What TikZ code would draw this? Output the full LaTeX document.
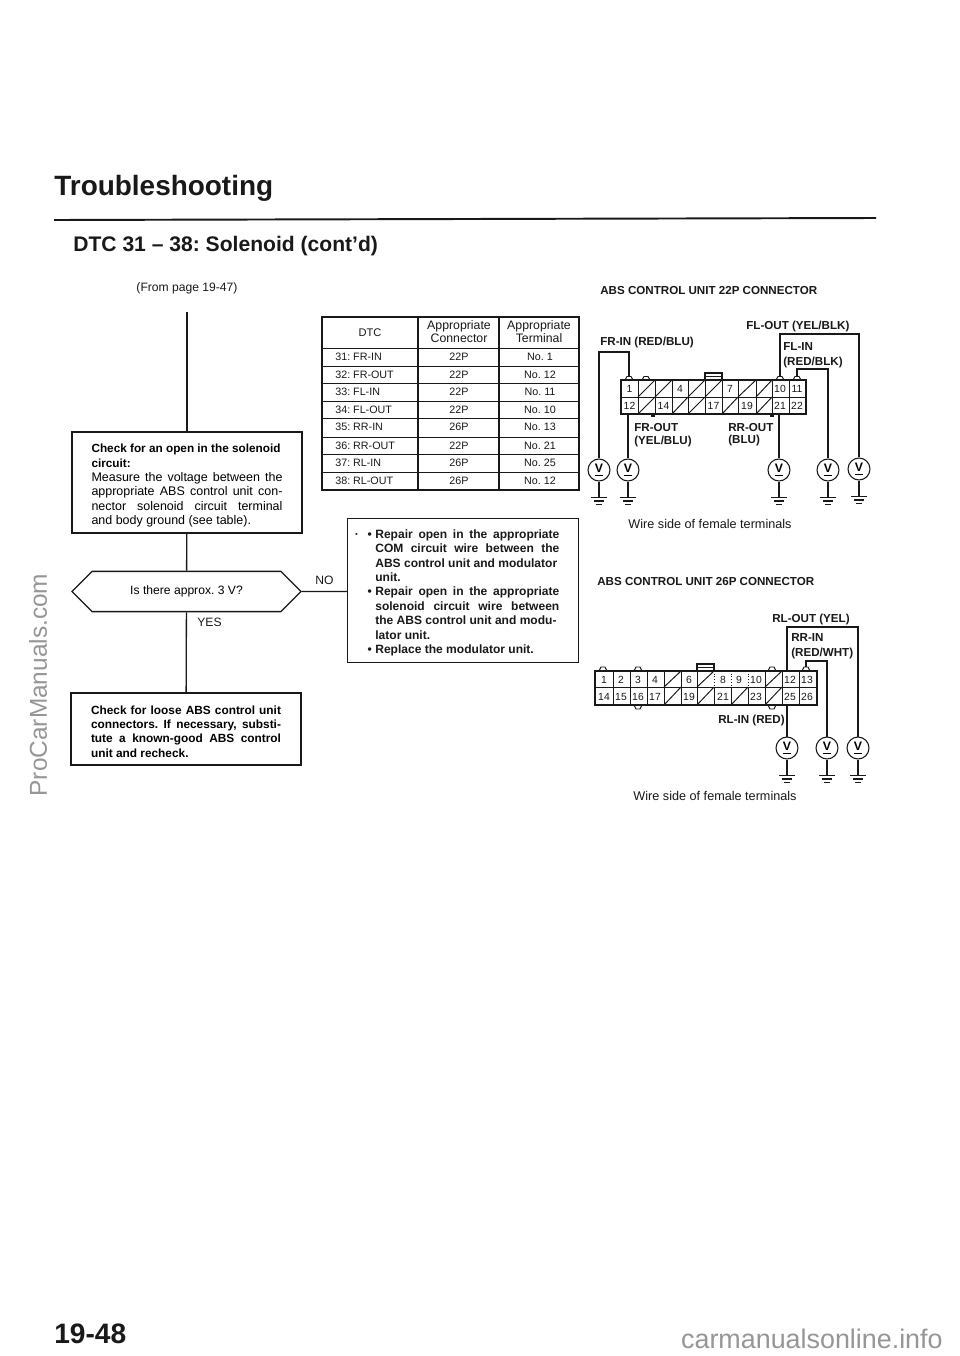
\documentclass[tikz,border=0pt]{standalone}
\usepackage{fontspec}
\setmainfont{Liberation Sans}
\usepackage{tikz}
\usetikzlibrary{positioning, calc, shapes.misc}
\definecolor{mygray}{RGB}{150,150,150}
\definecolor{myink}{RGB}{25,25,25}
\tikzset{
  flowbox/.style={rectangle, draw=myink, line width=0.75pt, inner ysep=0pt, align=justify,
    font=\fontsize{6.7}{8.17}\selectfont},
  askbox/.style={chamfered rectangle, chamfered rectangle xsep=0.39cm, chamfered rectangle ysep=0.29cm,
    draw=myink, line width=0.75pt, inner sep=0pt, minimum width=4.58cm, minimum height=0.58cm,
    font=\fontsize{6.9}{8}\selectfont},
  line/.style={line width=0.75pt, color=myink},
  wire/.style={line width=0.6pt, color=myink},
  label/.style={inner sep=0pt, anchor=base west, font=\fontsize{6.6}{7.4}\selectfont\bfseries, color=myink},
  small/.style={inner sep=0pt, font=\fontsize{6.9}{8}\selectfont, color=myink},
  hdr/.style={inner sep=0pt, font=\fontsize{7}{7.3}\selectfont, color=myink, align=center},
  cell/.style={inner sep=0pt, font=\fontsize{6.1}{7}\selectfont, color=myink},
  pin/.style={inner sep=0pt, font=\fontsize{5.9}{6}\selectfont, color=myink},
  meter/.style={circle, draw=myink, line width=0.6pt, minimum size=12.5pt, inner sep=0pt,
    font=\fontsize{7}{7}\selectfont\bfseries},
  cellline/.style={line width=0.55pt, color=myink}
}
% ground symbol under a meter
\newcommand{\gnd}[1]{
  \draw[wire] (#1.south) -- ++(0,16) ++(-8,0) -- ++(16,0) ++(-13,3.5) -- ++(10,0) ++(-8,3.5) -- ++(6,0);
}
\frenchspacing
\tolerance=9999
\begin{document}
\begin{tikzpicture}[x=0.02cm, y=-0.02cm]
  \useasboundingbox (0,0) rectangle (960,1356);
  \fill[white] (0,0) rectangle (960,1356);

  % Page heading
  \node[anchor=base west, inner sep=0pt, font=\fontsize{15.9}{17}\selectfont\bfseries, color=myink] (title) at (54,195) {Troubleshooting};
  \coordinate (ruleL) at (54,220);
  \coordinate (ruleR) at (876,218);
  \draw[line width=1.1pt, color=myink] (ruleL) -- (ruleR);
  \node[anchor=base west, inner sep=0pt, font=\fontsize{12}{13}\selectfont\bfseries, color=myink] (subtitle) at (73,251) {DTC 31 -- 38: Solenoid (cont'd)};
  \node[small, anchor=base] (frompage) at (187,291) {(From page 19-47)};

  % Flow chart
  \coordinate (top) at (187,312);
  \node[flowbox, minimum width=4.6cm, minimum height=2.02cm, text width=3.82cm, inner xsep=0.39cm] (check) at (187,482.5)
    {\fontsize{6.7}{8.17}\selectfont\rule{0pt}{8.4pt}\textbf{Check for an open in the solenoid\\circuit:}\\\fontsize{7.1}{8.17}\selectfont Measure the voltage between the\linebreak appropriate ABS control unit con-\linebreak nector solenoid circuit terminal\linebreak and body ground (see table).};
  \node[askbox] (ask) at (186.5,591.5) {Is there approx. 3 V?};
  \node[small, anchor=base west] (yes) at (197,626) {YES};
  \node[small, anchor=base west] (no) at (315,584) {NO};
  \node[flowbox, minimum width=4.6cm, minimum height=1.44cm, text width=3.8cm, inner xsep=0.4cm] (loose) at (186,729)
    {\fontsize{6.75}{8.17}\selectfont\bfseries\rule{0pt}{7.8pt}Check for loose ABS control unit\linebreak connectors. If necessary, substi-\linebreak tute a known-good ABS control\linebreak unit and recheck.};
  \node[flowbox, minimum width=4.62cm, minimum height=2.88cm, text width=3.68cm, inner sep=0pt, anchor=north west] (fix) at (347,518) {};
  \node[anchor=north west, inner sep=0pt, text width=3.68cm, align=justify, font=\fontsize{6.85}{8.17}\selectfont\bfseries, color=myink] (fixtext) at (375,529.5)
    {\llap{·\hspace{5pt}\textbullet\hspace{2pt}}Repair open in the appropriate\linebreak COM circuit wire between the\linebreak ABS control unit and modulator\\unit.\\\llap{\textbullet\hspace{2pt}}Repair open in the appropriate\linebreak solenoid circuit wire between\linebreak the ABS control unit and modu-\\lator unit.\\\llap{\textbullet\hspace{2pt}}Replace the modulator unit.};
  \draw[line] (top) -- (check);
  \draw[line] (check) -- (ask);
  \draw[line] (ask) -- (loose);
  \draw[line] (ask) -- (fix.west |- ask);

  % DTC table
  \draw[line] (322,317) rectangle (579,490);
  \draw[line] (418,317) -- (418,490);
  \draw[line] (499,317) -- (499,490);
  \foreach \y in {348,366,383,401,418,437,454,472} {
    \draw[cellline] (322,\y) -- (579,\y);
  }
  \node[hdr] (hdra) at (370,333) {\fontsize{6.3}{7}\selectfont DTC};
  \node[hdr] (hdrb) at (459,332) {Appropriate\\Connector};
  \node[hdr] (hdrc) at (539,332) {Appropriate\\Terminal};
  \foreach \y/\a/\b/\c in {357/31: FR-IN/22P/No. 1, 375/32: FR-OUT/22P/No. 12, 392/33: FL-IN/22P/No. 11,
      410/34: FL-OUT/22P/No. 10, 427/35: RR-IN/26P/No. 13, 445.5/36: RR-OUT/22P/No. 21,
      463/37: RL-IN/26P/No. 25, 481/38: RL-OUT/26P/No. 12} {
    \node[cell, anchor=west] at (335,\y) {\a};
    \node[cell] at (459,\y) {\b};
    \node[cell] at (540,\y) {\c};
  }

  % 22P connector
  \node[label] (abs22) at (600,294) {ABS CONTROL UNIT 22P CONNECTOR};
  \node[label] (flout) at (746,329) {FL-OUT (YEL/BLK)};
  \node[label] (frin) at (600,345) {FR-IN (RED/BLU)};
  \node[label] (flin) at (783,350) {FL-IN};
  \node[label] (flinb) at (783,365) {(RED/BLK)};
  \node[label] (frout) at (634,431) {FR-OUT};
  \node[label] (froutb) at (634,444) {(YEL/BLU)};
  \node[label] (rrout) at (728,431) {RR-OUT};
  \node[label] (rroutb) at (728,443) {(BLU)};
  \node[small, anchor=base, font=\fontsize{7.2}{8}\selectfont] (wire22) at (710,528) {Wire side of female terminals};
  \draw[line] (621,380) rectangle (806,414);
  \draw[cellline] (621,397) -- (806,397);
  \foreach \x in {638,655,672,688,705,722,738,756,772,789} {
    \draw[cellline] (\x,380) -- (\x,414);
  }
  \draw[line] (705,380) -- (705,373) -- (722,373) -- (722,380);
  \draw[cellline] (705,376) -- (722,376);
  \foreach \x/\n in {629.5/1,680/4,730/7,780/10,797/11} { \node[pin] at (\x,389) {\n}; }
  \foreach \x/\n in {629.5/12,663.5/14,713.5/17,747/19,780/21,797/22} { \node[pin] at (\x,406) {\n}; }
  \foreach \xa/\xb/\ya/\yb in {638/655/397/380,655/672/397/380,688/705/397/380,705/722/397/380,738/756/397/380,756/772/397/380,
      638/655/414/397,672/688/414/397,688/705/414/397,722/738/414/397,756/772/414/397} {
    \draw[cellline] (\xa,\ya) -- (\xb,\yb);
  }
  % latches
  \foreach \x in {629,646,780,797} {
    \draw[cellline] (\x-4,380) -- (\x-2,376.5) -- (\x+2,376.5) -- (\x+4,380);
  }
  \fill[myink] (651,414) rectangle (655,417);
  \fill[myink] (770,414) rectangle (774,417);
  \coordinate (p1) at (629,376.5);
  \coordinate (p10) at (780,376.5);
  \coordinate (p11) at (797,376.5);
  \coordinate (p12) at (628,414);
  \coordinate (p21) at (779,414);

  \foreach \name/\x/\y in {ma/599/470, mb/628/470, mc/779/470, md/828/470, me/859/469} {
    \node[meter] (\name) at (\x,\y) {\underline{V}};
  }
  \draw[wire] (ma.north) |- ($(p1)+(0,-24.5)$) -- (p1);
  \draw[wire] (mb.north) -- (p12);
  \draw[wire] (mc.north) -- (p21);
  \draw[wire] (md.north) |- ($(p11)+(0,-7.5)$) -- (p11);
  \draw[wire] (me.north) |- ($(p10)+(0,-42.5)$) -- (p10);
  \gnd{ma}\gnd{mb}\gnd{mc}\gnd{md}\gnd{me}

  % 26P connector
  \node[label] (abs26) at (597,585) {ABS CONTROL UNIT 26P CONNECTOR};
  \node[label] (rlout) at (772,622) {RL-OUT (YEL)};
  \node[label] (rrin) at (791,641) {RR-IN};
  \node[label] (rrinb) at (791,656) {(RED/WHT)};
  \node[label] (rlin) at (718,723) {RL-IN (RED)};
  \node[small, anchor=base, font=\fontsize{7.2}{8}\selectfont] (wire26) at (715,800) {Wire side of female terminals};
  \draw[line] (595,671) rectangle (817,705);
  \draw[cellline] (595,687) -- (817,687);
  \foreach \x in {613,630,647,664,681,697,765,782,799} {
    \draw[cellline] (\x,671) -- (\x,705);
  }
  \foreach \x in {714,731,748} {
    \draw[cellline] (\x,687) -- (\x,705);
    \draw[cellline, densely dotted] (\x,671) -- (\x,687);
  }
  \draw[line] (697,671) -- (697,664) -- (714,664) -- (714,671);
  \draw[cellline] (697,667) -- (714,667);
  \foreach \x/\n in {604/1,621/2,638/3,655/4,689/6,723/8,739/9,756/10,790/12,807/13} { \node[pin] at (\x,679.5) {\n}; }
  \foreach \x/\n in {604/14,621/15,638/16,655/17,689/19,723/21,756/23,790/25,807/26} { \node[pin] at (\x,696.5) {\n}; }
  \foreach \xa/\xb/\ya/\yb in {664/681/687/671,697/714/687/671,765/782/687/671,
      664/681/705/687,697/714/705/687,731/748/705/687,765/782/705/687} {
    \draw[cellline] (\xa,\ya) -- (\xb,\yb);
  }
  \foreach \x in {603,638,772,806} {
    \draw[cellline] (\x-4,671) -- (\x-2,667) -- (\x+2,667) -- (\x+4,671);
  }
  \foreach \x in {638,772} {
    \draw[cellline] (\x-4,705) -- (\x-2,709) -- (\x+2,709) -- (\x+4,705);
  }
  \coordinate (t12) at (787,671);
  \coordinate (t13) at (806,667);
  \coordinate (t25) at (787,705);
  \foreach \name/\x/\y in {mf/787/748, mg/827/748, mh/858/748} {
    \node[meter] (\name) at (\x,\y) {\underline{V}};
  }
  \draw[wire] (mf.north) -- (t25);
  \draw[wire] (mh.north) |- ($(t12)+(0,-44)$) -- (t12);
  \draw[wire] (mg.north) |- ($(t13)+(0,-6)$) -- (t13);
  \gnd{mf}\gnd{mg}\gnd{mh}

  % Footer
  \node[anchor=base west, inner sep=0pt, font=\fontsize{16}{17}\selectfont\bfseries, color=myink] (pageno) at (54,1343) {19-48};
  \node[anchor=base, rotate=90, inner sep=0pt, font=\fontsize{13.9}{15}\selectfont, color=mygray] (side) at (47,685) {ProCarManuals.com};
  \node[anchor=base east, inner sep=0pt, font=\fontsize{15.3}{16}\selectfont, color=mygray] (site) at (943,1348) {carmanualsonline.info};
\end{tikzpicture}
\end{document}
